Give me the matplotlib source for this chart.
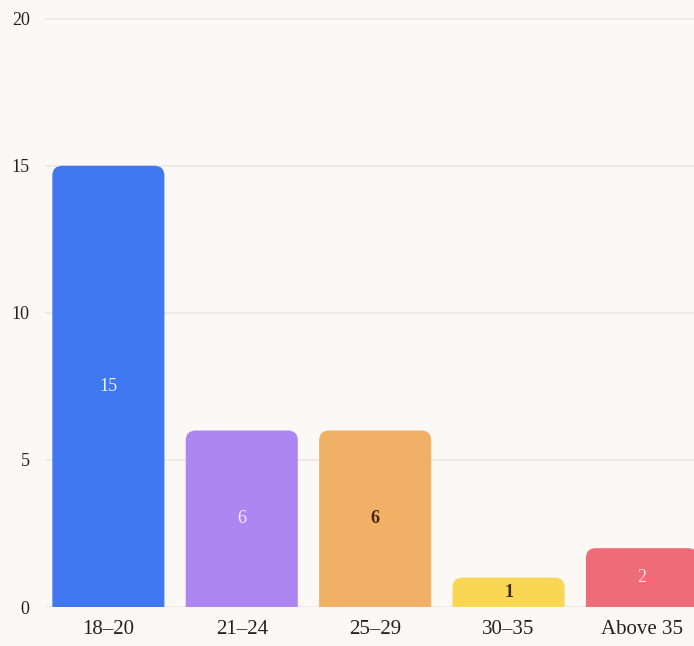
import numpy as np
import matplotlib.pyplot as plt
from matplotlib.patches import FancyBboxPatch

categories = ['18–20', '21–24', '25–29', '30–35', 'Above 35']
counts = [15, 6, 6, 1, 2]
colors = ['#3f78f0', '#ad86f2', '#f0b166', '#f9d654', '#ee6b78']
label_colors = ['#eef1ff', '#f4eeff', '#4a2410', '#3a2c05', '#fde0e5']
label_weights = ['normal', 'normal', 'bold', 'bold', 'normal']
yticks = [0, 5, 10, 15, 20]

plt.rcParams['font.family'] = ['Liberation Serif', 'DejaVu Serif']

fig = plt.figure(figsize=(6.94, 6.46), dpi=100)
fig.patch.set_facecolor('#fbf8f5')
ax = fig.add_axes([45/694, 39/646, 649/694, 603/646])
ax.set_facecolor('#fbf8f5')

x = np.arange(len(categories))
bars = ax.bar(x, counts, width=0.84, color=colors)

# swap plain rectangles for ones with rounded tops
for rect, c in zip(bars, colors):
    rect.set_visible(False)
    bx, bw, bh = rect.get_x(), rect.get_width(), rect.get_height()
    p = FancyBboxPatch((bx, -1), bw, bh + 1,
                       boxstyle='round,pad=0,rounding_size=0.075',
                       mutation_aspect=4.5, facecolor=c, edgecolor='none',
                       zorder=3)
    ax.add_patch(p)

for xi, v, lc, fw in zip(x, counts, label_colors, label_weights):
    ax.text(xi, v / 2, str(v), ha='center', va='center', color=lc,
            fontsize=13, fontweight=fw, zorder=4)

ax.set_xlim(-0.475, 4.39)
ax.set_ylim(0, 20.5)
ax.set_yticks(yticks)
ax.set_xticks(x)
ax.set_xticklabels(categories, fontsize=15, color='#222222')
ax.tick_params(axis='y', length=0, pad=11, labelsize=13, labelcolor='#222222')
ax.tick_params(axis='x', length=0, pad=9)
ax.grid(axis='y', color='#ece8e4', linewidth=1.2, zorder=0)
ax.set_axisbelow(True)
for s in ax.spines.values():
    s.set_visible(False)

fig.savefig('out.png', dpi=100, facecolor=fig.get_facecolor())
